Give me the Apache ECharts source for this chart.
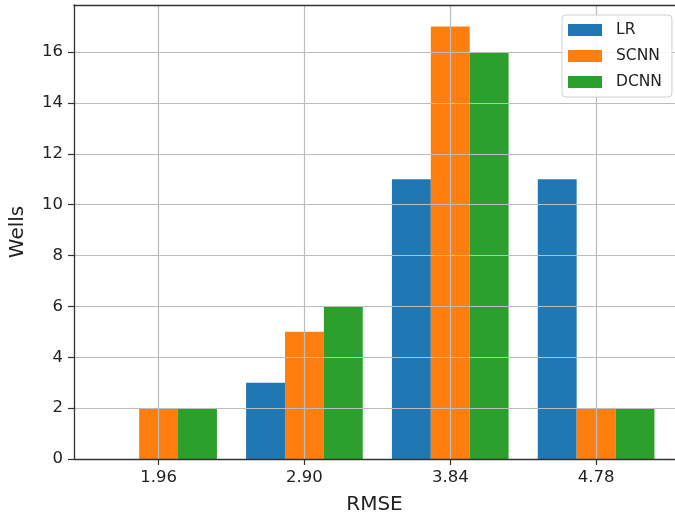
<!DOCTYPE html>
<html>
<head>
<meta charset="utf-8">
<script src="https://cdn.jsdelivr.net/npm/echarts@6/dist/echarts.min.js"></script>
<style>
  html, body { margin: 0; padding: 0; background: #fff; }
  #chart { width: 675px; height: 520px; }
</style>
</head>
<body>
<div id="chart"></div>
<script>
// RMSE bins and the number of wells falling into each, per model
const categories = ['1.96', '2.90', '3.84', '4.78'];
const lrWells = [0, 3, 11, 11];
const scnnWells = [2, 5, 17, 2];
const dcnnWells = [2, 6, 16, 2];
const yTicks = [0, 2, 4, 6, 8, 10, 12, 14, 16];

const FONT = 'DejaVu Sans';
const TEXT = '#222';
const SPINE = '#333';
const GRID = '#bcbcbc';

// bins sit at integer positions on a numeric axis so bar groups line up with the ticks
const binPositions = categories.map((c, i) => i);
const toPoints = vals => vals.map((v, i) => [binPositions[i], v]);

// visible x range (the plot runs off the right edge of the canvas)
const X_MIN = -0.58, X_MAX = 3.541;

const chart = echarts.init(document.getElementById('chart'), null, { renderer: 'canvas' });

chart.setOption({
  animation: false,
  backgroundColor: '#fff',
  textStyle: { fontFamily: FONT, color: TEXT },
  grid: { left: 73.3, right: 0, top: 5, bottom: 60 },
  legend: {
    orient: 'vertical',
    left: 562, top: 15,
    z: 10,
    padding: [7, 10, 7, 6],
    itemGap: 10,
    itemWidth: 34, itemHeight: 12,
    icon: 'rect',
    backgroundColor: 'rgba(255,255,255,0.85)',
    borderColor: '#d0d0d0', borderWidth: 1, borderRadius: 4,
    textStyle: { fontFamily: FONT, fontSize: 15.5, color: TEXT, padding: [0, 0, 0, 9] },
    data: ['LR', 'SCNN', 'DCNN']
  },
  xAxis: [
    {
      type: 'value',
      min: X_MIN, max: X_MAX,
      z: 5,
      name: 'RMSE',
      nameLocation: 'middle',
      nameGap: 36,
      nameTextStyle: { fontFamily: FONT, fontSize: 20, color: TEXT },
      axisLine: { show: true, onZero: false, lineStyle: { color: SPINE, width: 1.3 } },
      axisTick: { show: true, length: 6, customValues: binPositions, lineStyle: { color: SPINE, width: 1.2 } },
      axisLabel: {
        customValues: binPositions,
        margin: 10,
        fontFamily: FONT, fontSize: 16.5, color: TEXT,
        formatter: v => categories[Math.round(v)]
      },
      splitLine: { show: true, lineStyle: { color: GRID, width: 1.2 } }
    },
    {
      // top spine
      type: 'value',
      position: 'top',
      min: X_MIN, max: X_MAX,
      z: 5,
      axisLine: { show: true, onZero: false, lineStyle: { color: SPINE, width: 1.3 } },
      axisTick: { show: false },
      axisLabel: { show: false },
      splitLine: { show: false }
    }
  ],
  yAxis: {
    type: 'value',
    min: 0, max: 17.85,
    z: 5,
    name: 'Wells',
    nameLocation: 'middle',
    nameGap: 46,
    nameTextStyle: { fontFamily: FONT, fontSize: 20, color: TEXT },
    axisLine: { show: true, onZero: false, lineStyle: { color: SPINE, width: 1.3 } },
    axisTick: { show: true, length: 6, customValues: yTicks, lineStyle: { color: SPINE, width: 1.2 } },
    axisLabel: {
      customValues: yTicks,
      margin: 11,
      fontFamily: FONT, fontSize: 16.5, color: TEXT
    },
    splitLine: { show: true, lineStyle: { color: GRID, width: 1.2 } }
  },
  series: [
    { name: 'LR', type: 'bar', data: toPoints(lrWells), itemStyle: { color: '#1f77b4' }, barGap: '0%', barCategoryGap: '20%' },
    { name: 'SCNN', type: 'bar', data: toPoints(scnnWells), itemStyle: { color: '#ff7f0e' }, barGap: '0%', barCategoryGap: '20%' },
    { name: 'DCNN', type: 'bar', data: toPoints(dcnnWells), itemStyle: { color: '#2ca02c' }, barGap: '0%', barCategoryGap: '20%' }
  ]
});
</script>
</body>
</html>
